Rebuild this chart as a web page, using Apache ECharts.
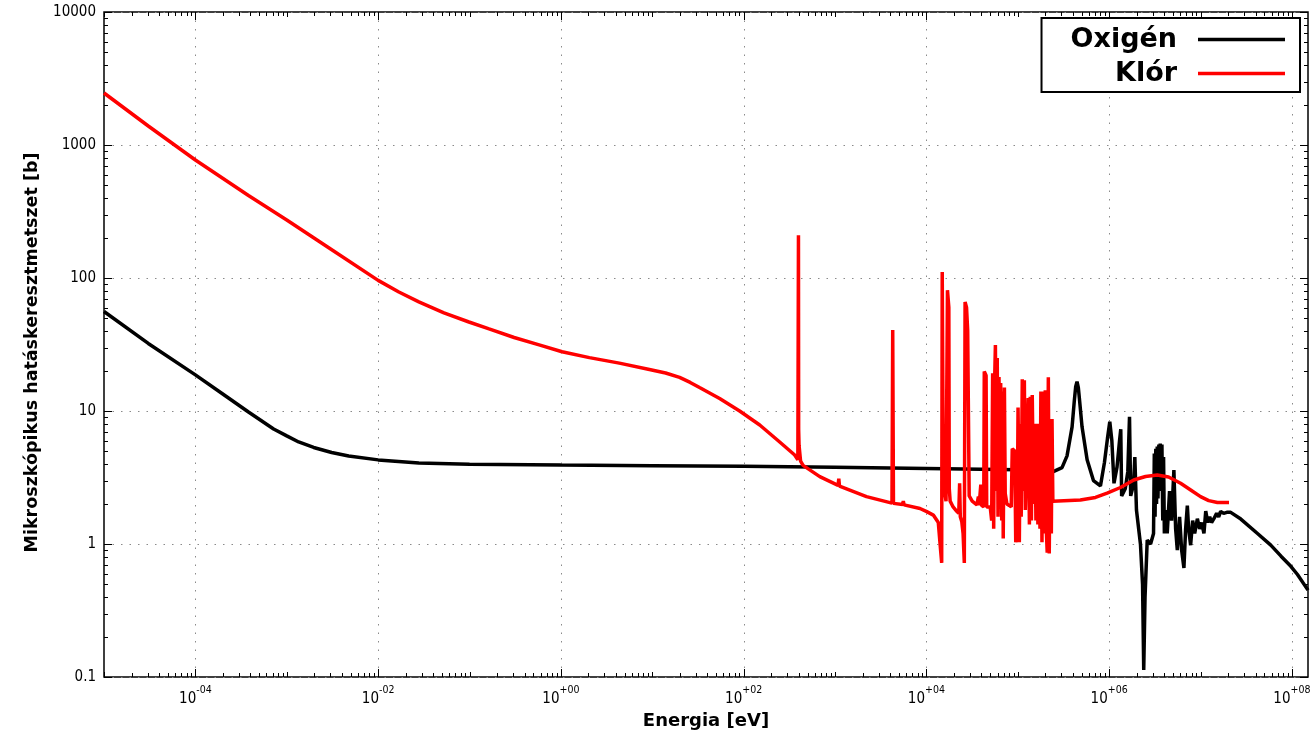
<!DOCTYPE html>
<html><head><meta charset="utf-8">
<script src="https://cdn.jsdelivr.net/npm/echarts@6/dist/echarts.min.js"></script>
<style>html,body{margin:0;padding:0;background:#fff}#c{width:1314px;height:735px}</style>
</head><body><div id="c"></div>
<script>
// ---- Data (energy in eV, cross section in barn) ----
const oxigenE = [1e-5,3.05e-5,1e-4,2.03e-4,3.81e-4,7.18e-4,1.0e-3,1.35e-3,1.97e-3,3.1e-3,4.76e-3,1e-2,0.0279,0.1,1,10,100,1000,1e4,1e5,2.45e5,3.05e5,3.46e5,3.93e5,4.16e5,4.30e5,4.45e5,4.60e5,4.72e5,5.05e5,5.74e5,6.73e5,8.03e5,8.88e5,9.58e5,1.016e6,1.07e6,1.13e6,1.22e6,1.30e6,1.34e6,1.37e6,1.50e6,1.60e6,1.67e6,1.72e6,1.85e6,1.91e6,1.99e6,2.20e6,2.32e6,2.39e6,2.47e6,2.61e6,2.84e6,3.06e6,3.12e6,3.18e6,3.24e6,3.30e6,3.36e6,3.42e6,3.50e6,3.56e6,3.62e6,3.70e6,3.78e6,3.86e6,3.94e6,4.02e6,4.14e6,4.32e6,4.58e6,4.82e6,5.11e6,5.34e6,5.57e6,5.90e6,6.21e6,6.58e6,6.87e6,7.17e6,7.41e6,7.79e6,8.2e6,8.63e6,9.23e6,9.78e6,1.03e7,1.09e7,1.14e7,1.20e7,1.26e7,1.32e7,1.40e7,1.50e7,1.58e7,1.66e7,1.79e7,1.94e7,2.14e7,2.76e7,4.2e7,5.87e7,7.6e7,9.73e7,1.15e8,1.5e8];
const oxigenS = [56,32.2,18.7,13.3,9.82,7.33,6.5,5.85,5.32,4.88,4.59,4.29,4.06,3.98,3.92,3.88,3.85,3.78,3.7,3.62,3.5,3.75,4.6,7.6,12,15.2,16.6,15.0,12.5,7.6,4.3,3.0,2.73,4.1,6.2,8.3,6.0,2.86,3.8,6.0,7.3,2.3,2.6,3.5,9.06,2.3,2.8,4.5,1.8,1.0,0.5,0.113,0.4,1.07,1.0,1.2,4.8,1.6,5.2,2.0,5.4,2.2,5.6,2.5,5.7,3.0,5.6,1.5,4.5,1.2,1.8,1.2,2.5,1.5,3.6,1.3,0.9,1.6,0.9,0.66,1.3,1.94,1.3,0.98,1.5,1.2,1.55,1.3,1.45,1.2,1.77,1.45,1.6,1.45,1.55,1.7,1.6,1.76,1.7,1.73,1.73,1.54,1.2,0.98,0.81,0.68,0.59,0.45];

const klorE = [1e-5,3.05e-5,1e-4,3.81e-4,1e-3,2.88e-3,1e-2,0.01686,0.0279,0.0525,0.0986,0.1636,0.3078,0.578,1.03,2.05,4.36,9.31,14,19.9,26,32.9,54.6,90.4,150,248,362,392,396,398,400,404,420,447,681,1080,1100,1120,2210,4200,4280,4360,5500,5590,5700,8510,1.01e4,1.19e4,1.35e4,1.43e4,1.47e4,1.49e4,1.53e4,1.58e4,1.64e4,1.70e4,1.76e4,1.78e4,1.82e4,1.96e4,2.15e4,2.26e4,2.31e4,2.35e4,2.44e4,2.52e4,2.60e4,2.65e4,2.75e4,2.83e4,2.88e4,2.94e4,3.17e4,3.57e4,3.71e4,3.78e4,3.94e4,4.02e4,4.24e4,4.30e4,4.50e4,4.57e4,4.99e4,5.18e4,5.31e4,5.45e4,5.56e4,5.69e4,5.83e4,5.96e4,6.08e4,6.23e4,6.39e4,6.50e4,6.67e4,6.84e4,6.93e4,7.14e4,7.29e4,7.61e4,8.06e4,8.48e4,8.70e4,9.27e4,9.50e4,9.87e4,1.007e5,1.04e5,1.065e5,1.09e5,1.12e5,1.15e5,1.18e5,1.21e5,1.26e5,1.30e5,1.34e5,1.37e5,1.41e5,1.44e5,1.49e5,1.54e5,1.58e5,1.62e5,1.66e5,1.70e5,1.75e5,1.79e5,1.84e5,1.89e5,1.94e5,2.00e5,2.05e5,2.10e5,2.16e5,2.21e5,2.27e5,2.33e5,2.37e5,2.42e5,2.45e5,4.84e5,7.08e5,9.5e5,1.33e6,1.86e6,2.5e6,3.36e6,4.47e6,6.05e6,7.8e6,1.0e7,1.23e7,1.53e7,2.05e7];
const klorS = [2460,1390,771,417,273,169,96,78.5,66.1,54.6,46.7,41.4,35.7,31.4,27.9,25.2,22.9,20.5,19.3,17.9,16.4,15.0,12.4,10.0,7.85,5.85,4.67,4.3,4.45,210,7.2,5.5,4.2,3.9,3.21,2.76,3.1,2.72,2.27,2.03,40.6,2.02,1.98,2.1,1.97,1.85,1.75,1.65,1.45,0.9,0.72,111,3.5,2.5,2.1,81,60,2.6,2.1,1.9,1.76,1.7,2.86,1.6,1.47,1.2,0.72,66,60,40,40,2.3,2.1,1.97,2.27,1.95,2.8,1.95,1.9,19.8,18.5,1.9,1.9,1.5,19.2,1.3,15,31.3,2.5,25,1.6,18,2.0,16.2,1.5,14,1.1,15,2.4,2.0,1.95,1.9,5.2,5.0,1.03,1.5,10.6,1.03,8,1.6,17.3,2.5,17,1.8,1.8,12.5,1.4,12.8,1.5,13.2,2.0,8,1.5,8,1.4,8,1.3,14,1.03,14.0,1.2,14.3,1.3,0.86,17.9,0.85,8.7,1.2,8.7,2.1,2.08,2.14,2.24,2.41,2.66,3.03,3.22,3.30,3.19,2.86,2.55,2.27,2.12,2.05,2.05];

const seriesNames = ['Oxigén', 'Klór'];
const xLabelExponents = [-4, -2, 0, 2, 4, 6, 8];
const yTickLabels = ['0.1', '1', '10', '100', '1000', '10000'];
const xMin = 1e-5, xMax = 1.5e8, yMin = 0.1, yMax = 10000;

const zip = (a, b) => a.map((v, i) => [v, b[i]]);
const tickFont = "'DejaVu Sans Condensed','DejaVu Sans',sans-serif";
const boldFont = "'DejaVu Sans',sans-serif";

function renderDecor(params, api) {
  const cs = params.coordSys;
  const L = cs.x, R = cs.x + cs.width, T = cs.y, B = cs.y + cs.height;
  const ch = [];
  const tk = { stroke: '#000', lineWidth: 1 };
  xLabelExponents.forEach(e => {
    const px = Math.round(api.coord([Math.pow(10, e), 1])[0]) + 0.5;
    ch.push({ type: 'line', shape: { x1: px, y1: T, x2: px, y2: B },
      style: { stroke: '#8a8a8a', lineWidth: 1, lineDash: [1.5, 7] } });
  });
  for (let e = -5; e <= 8; e++) {
    for (let k = 1; k <= 9; k++) {
      const v = k * Math.pow(10, e);
      if (v < xMin * 0.999 || v > xMax) continue;
      const px = Math.round(api.coord([v, 1])[0]) + 0.5;
      const len = k === 1 ? (e % 2 === 0 ? 8 : 5) : 4;
      ch.push({ type: 'line', shape: { x1: px, y1: B, x2: px, y2: B - len }, style: tk });
      ch.push({ type: 'line', shape: { x1: px, y1: T, x2: px, y2: T + len }, style: tk });
    }
  }
  for (let e = -1; e <= 4; e++) {
    for (let k = 1; k <= 9; k++) {
      const v = k * Math.pow(10, e);
      if (v > yMax * 1.001) continue;
      const py = Math.round(api.coord([1, v])[1]) + 0.5;
      const len = k === 1 ? 8 : 4;
      ch.push({ type: 'line', shape: { x1: L, y1: py, x2: L + len, y2: py }, style: tk });
      ch.push({ type: 'line', shape: { x1: R, y1: py, x2: R - len, y2: py }, style: tk });
    }
  }
  return { type: 'group', children: ch };
}

const chart = echarts.init(document.getElementById('c'), null, { renderer: 'canvas' });
chart.setOption({
  animation: false,
  backgroundColor: '#fff',
  grid: { left: 104, right: 6, top: 12, bottom: 58, show: true, borderColor: '#000', borderWidth: 1.5, backgroundColor: 'transparent' },
  legend: {
    data: seriesNames, orient: 'vertical', align: 'right', right: 14, top: 18,
    icon: 'rect', itemWidth: 87, itemHeight: 3.5, itemGap: 7, padding: [8, 15, 5, 29],
    borderColor: '#000', borderWidth: 2, backgroundColor: '#fff', selectedMode: false,
    textStyle: { fontFamily: boldFont, fontWeight: 'bold', fontSize: 27, color: '#000', padding: [0, 16, 0, 0] }
  },
  xAxis: {
    type: 'log', min: xMin, max: xMax, interval: 1, logBase: 10,
    name: 'Energia [eV]', nameLocation: 'middle', nameGap: 32,
    nameTextStyle: { fontFamily: boldFont, fontWeight: 'bold', fontSize: 18, color: '#000' },
    axisLine: { show: false }, axisTick: { show: false }, splitLine: { show: false },
    axisLabel: {
      margin: 8, showMaxLabel: false, color: '#000',
      formatter: v => {
        const e = Math.round(Math.log10(v));
        if (xLabelExponents.indexOf(e) < 0) return '';
        const s = (e < 0 ? '-' : '+') + String(Math.abs(e)).padStart(2, '0');
        return '{b|10}{s|' + s + '}';
      },
      rich: {
        b: { fontFamily: tickFont, fontSize: 15, color: '#000', lineHeight: 22, verticalAlign: 'bottom' },
        s: { fontFamily: tickFont, fontSize: 10.5, color: '#000', lineHeight: 22, verticalAlign: 'top' }
      }
    }
  },
  yAxis: {
    type: 'log', min: yMin, max: yMax, interval: 1, logBase: 10,
    name: 'Mikroszkópikus hatáskeresztmetszet [b]', nameLocation: 'middle', nameGap: 63,
    nameTextStyle: { fontFamily: boldFont, fontWeight: 'bold', fontSize: 17.5, color: '#000', padding: [0, 16, 0, 0] },
    axisLine: { show: false }, axisTick: { show: false },
    splitLine: { show: true, lineStyle: { color: '#8a8a8a', width: 1, type: [1.5, 7] } },
    axisLabel: {
      margin: 8, fontFamily: tickFont, fontSize: 15, color: '#000',
      formatter: v => yTickLabels[Math.round(Math.log10(v)) + 1] || ''
    }
  },
  series: [
    { type: 'custom', name: 'decor', silent: true, z: 1, renderItem: renderDecor, data: [[1, 1]] },
    { type: 'line', name: seriesNames[0], data: zip(oxigenE, oxigenS), symbol: 'none', showSymbol: false,
      z: 3, lineStyle: { color: '#000', width: 3.5 }, itemStyle: { color: '#000' } },
    { type: 'line', name: seriesNames[1], data: zip(klorE, klorS), symbol: 'none', showSymbol: false,
      z: 4, lineStyle: { color: '#ff0000', width: 3.5 }, itemStyle: { color: '#ff0000' } }
  ]
});
</script></body></html>
